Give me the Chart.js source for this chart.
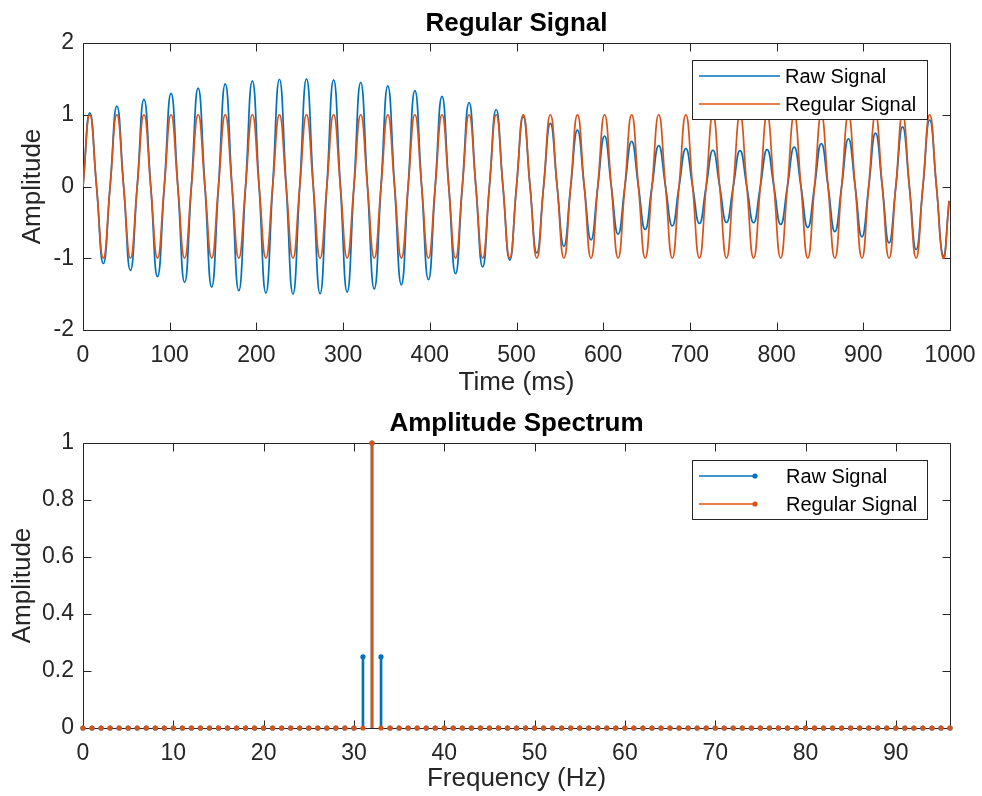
<!DOCTYPE html>
<html>
<head>
<meta charset="utf-8">
<script src="https://cdn.jsdelivr.net/npm/chart.js@4.4.1/dist/chart.umd.min.js"></script>
<style>
  html, body { margin: 0; padding: 0; background: #ffffff; }
  #wrap { position: relative; width: 982px; height: 796px; background: #ffffff; }
  #c1 { position: absolute; left: 0; top: 0; }
  #c2 { position: absolute; left: 0; top: 400px; }
</style>
</head>
<body>
<div id="wrap">
  <canvas id="c1" width="982" height="400"></canvas>
  <canvas id="c2" width="982" height="396"></canvas>
</div>
<script>
// ---------------- DATA ----------------
// Time samples (ms) at zero crossings and peaks of the 32 Hz waves
const timeMs = [
  0, 7.81, 15.63, 23.44, 31.25, 39.06, 46.88, 54.69, 62.5, 70.31, 78.13, 85.94,
  93.75, 101.56, 109.38, 117.19, 125, 132.81, 140.63, 148.44, 156.25, 164.06, 171.88, 179.69,
  187.5, 195.31, 203.13, 210.94, 218.75, 226.56, 234.38, 242.19, 250, 257.81, 265.63, 273.44,
  281.25, 289.06, 296.88, 304.69, 312.5, 320.31, 328.13, 335.94, 343.75, 351.56, 359.38, 367.19,
  375, 382.81, 390.63, 398.44, 406.25, 414.06, 421.88, 429.69, 437.5, 445.31, 453.13, 460.94,
  468.75, 476.56, 484.38, 492.19, 500, 507.81, 515.63, 523.44, 531.25, 539.06, 546.88, 554.69,
  562.5, 570.31, 578.13, 585.94, 593.75, 601.56, 609.38, 617.19, 625, 632.81, 640.63, 648.44,
  656.25, 664.06, 671.88, 679.69, 687.5, 695.31, 703.13, 710.94, 718.75, 726.56, 734.38, 742.19,
  750, 757.81, 765.63, 773.44, 781.25, 789.06, 796.88, 804.69, 812.5, 820.31, 828.13, 835.94,
  843.75, 851.56, 859.38, 867.19, 875, 882.81, 890.63, 898.44, 906.25, 914.06, 921.88, 929.69,
  937.5, 945.31, 953.13, 960.94, 968.75, 976.56, 984.38, 992.19, 999
];
const rawSignal = [
  0, 1.025, 0, -1.073, 0, 1.121, 0, -1.168, 0, 1.214, 0, -1.257,
  0, 1.298, 0, -1.336, 0, 1.37, 0, -1.402, 0, 1.429, 0, -1.452,
  0, 1.471, 0, -1.485, 0, 1.495, 0, -1.499, 0, 1.499, 0, -1.495,
  0, 1.485, 0, -1.471, 0, 1.452, 0, -1.429, 0, 1.402, 0, -1.37,
  0, 1.336, 0, -1.298, 0, 1.257, 0, -1.214, 0, 1.168, 0, -1.121,
  0, 1.073, 0, -1.025, 0, 0.975, 0, -0.927, 0, 0.879, 0, -0.832,
  0, 0.786, 0, -0.743, 0, 0.702, 0, -0.664, 0, 0.63, 0, -0.598,
  0, 0.571, 0, -0.548, 0, 0.529, 0, -0.515, 0, 0.505, 0, -0.501,
  0, 0.501, 0, -0.505, 0, 0.515, 0, -0.529, 0, 0.548, 0, -0.571,
  0, 0.598, 0, -0.63, 0, 0.664, 0, -0.702, 0, 0.743, 0, -0.786,
  0, 0.832, 0, -0.879, 0, 0.927, 0, -0.975, -0.2
];
const regularSignal = [
  0, 1, 0, -1, 0, 1, 0, -1, 0, 1, 0, -1,
  0, 1, 0, -1, 0, 1, 0, -1, 0, 1, 0, -1,
  0, 1, 0, -1, 0, 1, 0, -1, 0, 1, 0, -1,
  0, 1, 0, -1, 0, 1, 0, -1, 0, 1, 0, -1,
  0, 1, 0, -1, 0, 1, 0, -1, 0, 1, 0, -1,
  0, 1, 0, -1, 0, 1, 0, -1, 0, 1, 0, -1,
  0, 1, 0, -1, 0, 1, 0, -1, 0, 1, 0, -1,
  0, 1, 0, -1, 0, 1, 0, -1, 0, 1, 0, -1,
  0, 1, 0, -1, 0, 1, 0, -1, 0, 1, 0, -1,
  0, 1, 0, -1, 0, 1, 0, -1, 0, 1, 0, -1,
  0, 1, 0, -1, 0, 1, 0, -1, -0.2
];
const timeTicks = [0, 100, 200, 300, 400, 500, 600, 700, 800, 900, 1000];
const signalTicks = [-2, -1, 0, 1, 2];

const freqHz = [
  0, 1, 2, 3, 4, 5, 6, 7, 8, 9, 10, 11, 12, 13, 14, 15, 16, 17, 18, 19,
  20, 21, 22, 23, 24, 25, 26, 27, 28, 29, 30, 31, 32, 33, 34, 35, 36, 37, 38, 39,
  40, 41, 42, 43, 44, 45, 46, 47, 48, 49, 50, 51, 52, 53, 54, 55, 56, 57, 58, 59,
  60, 61, 62, 63, 64, 65, 66, 67, 68, 69, 70, 71, 72, 73, 74, 75, 76, 77, 78, 79,
  80, 81, 82, 83, 84, 85, 86, 87, 88, 89, 90, 91, 92, 93, 94, 95, 96
];
const rawSpectrum = [
  0, 0, 0, 0, 0, 0, 0, 0, 0, 0, 0, 0, 0, 0, 0, 0, 0, 0, 0, 0,
  0, 0, 0, 0, 0, 0, 0, 0, 0, 0, 0, 0.25, 1, 0.25, 0, 0, 0, 0, 0, 0,
  0, 0, 0, 0, 0, 0, 0, 0, 0, 0, 0, 0, 0, 0, 0, 0, 0, 0, 0, 0,
  0, 0, 0, 0, 0, 0, 0, 0, 0, 0, 0, 0, 0, 0, 0, 0, 0, 0, 0, 0,
  0, 0, 0, 0, 0, 0, 0, 0, 0, 0, 0, 0, 0, 0, 0, 0, 0
];
const regularSpectrum = [
  0, 0, 0, 0, 0, 0, 0, 0, 0, 0, 0, 0, 0, 0, 0, 0, 0, 0, 0, 0,
  0, 0, 0, 0, 0, 0, 0, 0, 0, 0, 0, 0, 1, 0, 0, 0, 0, 0, 0, 0,
  0, 0, 0, 0, 0, 0, 0, 0, 0, 0, 0, 0, 0, 0, 0, 0, 0, 0, 0, 0,
  0, 0, 0, 0, 0, 0, 0, 0, 0, 0, 0, 0, 0, 0, 0, 0, 0, 0, 0, 0,
  0, 0, 0, 0, 0, 0, 0, 0, 0, 0, 0, 0, 0, 0, 0, 0, 0
];
const freqTicks = [0, 10, 20, 30, 40, 50, 60, 70, 80, 90];
const spectrumTicks = [0, 0.2, 0.4, 0.6, 0.8, 1];

const seriesNames = ['Raw Signal', 'Regular Signal'];
const titles = ['Regular Signal', 'Amplitude Spectrum'];

// ---------------- STYLE ----------------
const FONT = '"Liberation Sans", Arial, Helvetica, sans-serif';
const AX = '#262626';
const BLUE = '#0072BD';
const ORANGE = '#D95319';
const TICK_FONT = 23, LABEL_FONT = 26, TITLE_FONT = 26, LEGEND_FONT = 20;

const framePlugin = {
  id: 'frame',
  beforeDatasetsDraw(chart) {
    const { ctx, chartArea: ca, scales: { x, y } } = chart;
    const L = Math.round(ca.left) + 0.5, R = Math.round(ca.right) + 0.5;
    const T = Math.round(ca.top) + 0.5, B = Math.round(ca.bottom) + 0.5;
    const len = 8;
    ctx.save();
    ctx.strokeStyle = AX;
    ctx.lineWidth = 1;
    ctx.beginPath();
    ctx.moveTo(L, T); ctx.lineTo(R, T); ctx.lineTo(R, B); ctx.lineTo(L, B); ctx.closePath();
    x.ticks.forEach(t => {
      const px = Math.round(x.getPixelForValue(t.value)) + 0.5;
      ctx.moveTo(px, B); ctx.lineTo(px, B - len);
      ctx.moveTo(px, T); ctx.lineTo(px, T + len);
    });
    y.ticks.forEach(t => {
      const py = Math.round(y.getPixelForValue(t.value)) + 0.5;
      ctx.moveTo(L, py); ctx.lineTo(L + len, py);
      ctx.moveTo(R, py); ctx.lineTo(R - len, py);
    });
    ctx.stroke();
    ctx.restore();
  }
};

function legendPlugin(withMarker) {
  return {
    id: 'mlegend',
    afterDatasetsDraw(chart) {
      const { ctx, chartArea: ca } = chart;
      const bw = 235, bh = 59;
      const bx = Math.round(ca.right) - 23 - bw;
      const by = Math.round(ca.top) + 17;
      ctx.save();
      ctx.fillStyle = '#ffffff';
      ctx.fillRect(bx, by, bw, bh);
      ctx.strokeStyle = AX;
      ctx.lineWidth = 1;
      ctx.strokeRect(bx + 0.5, by + 0.5, bw, bh);
      const colors = [BLUE, ORANGE];
      const rows = [by + 16, by + 44];
      const lineEnd = withMarker ? bx + 63 : bx + 88;
      const textX = withMarker ? bx + 94 : bx + 93;
      seriesNames.forEach((name, i) => {
        const yy = rows[i];
        ctx.strokeStyle = colors[i];
        ctx.lineWidth = 1.6;
        ctx.beginPath();
        ctx.moveTo(bx + 7, yy); ctx.lineTo(lineEnd, yy);
        ctx.stroke();
        if (withMarker) {
          ctx.fillStyle = colors[i];
          ctx.beginPath();
          ctx.arc(lineEnd, yy, 2.6, 0, Math.PI * 2);
          ctx.fill();
        }
        ctx.fillStyle = '#000000';
        ctx.font = LEGEND_FONT + 'px ' + FONT;
        ctx.textAlign = 'left';
        ctx.textBaseline = 'middle';
        ctx.fillText(name, textX, yy + 1);
      });
      ctx.restore();
    }
  };
}

function axisOpts(min, max, tickVals, size, titleText, isX, titlePad, tickPad) {
  return {
    type: 'linear',
    min: min, max: max,
    offset: false,
    afterBuildTicks: s => { s.ticks = tickVals.map(v => ({ value: v })); },
    afterFit: s => {
      if (isX) { s.height = size; s.paddingLeft = 0; s.paddingRight = 0; }
      else { s.width = size; }
    },
    grid: { display: false, drawTicks: false },
    border: { display: false },
    ticks: {
      color: AX, padding: tickPad, maxRotation: 0, autoSkip: false,
      font: { family: FONT, size: TICK_FONT },
      callback: v => String(v)
    },
    title: {
      display: true, text: titleText, color: AX,
      font: { family: FONT, size: LABEL_FONT },
      padding: titlePad
    }
  };
}

function commonOptions(titleText) {
  return {
    responsive: false,
    animation: false,
    devicePixelRatio: 1,
    events: [],
    layout: { padding: { left: 0, right: 32, top: 0, bottom: 0 } },
    plugins: {
      legend: { display: false },
      tooltip: { enabled: false },
      title: {
        display: true, text: titleText, fullSize: false, color: '#000000',
        font: { family: FONT, size: TITLE_FONT, weight: 'bold' },
        padding: { top: 8, bottom: 3.8 }
      }
    }
  };
}

// ---------------- CHART 1: time signal ----------------
const opt1 = commonOptions(titles[0]);
opt1.scales = {
  x: axisOpts(0, 1000, timeTicks, 70, 'Time (ms)', true, { top: 0, bottom: 2 }, 12),
  y: axisOpts(-2, 2, signalTicks, 83, 'Amplitude', false, { top: 17, bottom: 0 }, 9)
};
new Chart(document.getElementById('c1'), {
  type: 'line',
  data: {
    datasets: [
      {
        label: seriesNames[0],
        data: timeMs.map((t, i) => ({ x: t, y: rawSignal[i] })),
        borderColor: BLUE, borderWidth: 1.7, pointRadius: 0, tension: 0.5,
        fill: false, order: 2
      },
      {
        label: seriesNames[1],
        data: timeMs.map((t, i) => ({ x: t, y: regularSignal[i] })),
        borderColor: ORANGE, borderWidth: 1.7, pointRadius: 0, tension: 0.5,
        fill: false, order: 1
      }
    ]
  },
  options: opt1,
  plugins: [framePlugin, legendPlugin(false)]
});

// ---------------- CHART 2: amplitude spectrum ----------------
const opt2 = commonOptions(titles[1]);
opt2.scales = {
  x: axisOpts(0, 96, freqTicks, 68, 'Frequency (Hz)', true, { top: 0, bottom: 2 }, 12),
  y: axisOpts(0, 1, spectrumTicks, 83, 'Amplitude', false, { top: 7, bottom: 0 }, 9)
};
new Chart(document.getElementById('c2'), {
  type: 'bar',
  data: {
    datasets: [
      {
        type: 'bar', label: seriesNames[0],
        data: freqHz.map((f, i) => ({ x: f, y: rawSpectrum[i] })),
        backgroundColor: BLUE, borderWidth: 0, barThickness: 2, grouped: false, order: 4
      },
      {
        type: 'line', label: seriesNames[0] + ' markers', showLine: false,
        data: freqHz.map((f, i) => ({ x: f, y: rawSpectrum[i] })),
        pointRadius: 2.6, pointBorderWidth: 0, pointBackgroundColor: BLUE,
        borderColor: BLUE, clip: false, order: 3
      },
      {
        type: 'bar', label: seriesNames[1],
        data: freqHz.map((f, i) => ({ x: f, y: regularSpectrum[i] })),
        backgroundColor: ORANGE, borderWidth: 0, barThickness: 2, grouped: false, order: 2
      },
      {
        type: 'line', label: seriesNames[1] + ' markers', showLine: false,
        data: freqHz.map((f, i) => ({ x: f, y: regularSpectrum[i] })),
        pointRadius: 2.6, pointBorderWidth: 0, pointBackgroundColor: ORANGE,
        borderColor: ORANGE, clip: false, order: 1
      }
    ]
  },
  options: opt2,
  plugins: [framePlugin, legendPlugin(true)]
});
</script>
</body>
</html>
